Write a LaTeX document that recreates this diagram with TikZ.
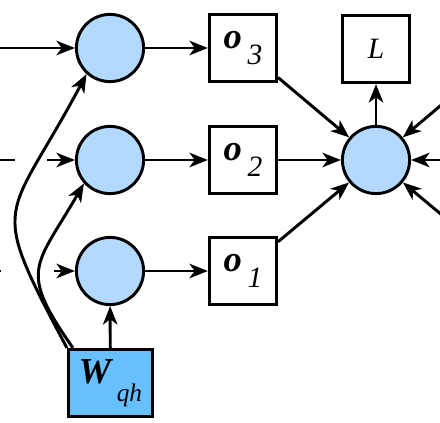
\documentclass[tikz,border=0pt]{standalone}
\usepackage{fontspec}
\setmainfont{Liberation Serif}
\usepackage{xcolor}
\usetikzlibrary{arrows.meta,positioning}
\definecolor{Ink}{HTML}{000000}
\definecolor{StateBlue}{HTML}{B3D9FF}
\definecolor{WeightBlue}{HTML}{66BFFF}
\newcommand{\bvec}[5]{{\fontsize{#3}{#3}\selectfont\bfseries\itshape #1}\kern4pt\raisebox{#5}{\fontsize{#4}{#4}\selectfont\itshape #2}}

\begin{document}
\begin{tikzpicture}[x=1cm,y=1cm,>={Stealth[length=4.6mm,width=3.6mm,inset=1.3mm]},line width=2.1pt,
  state/.style={circle,draw=Ink,fill=StateBlue,minimum size=1.68cm,inner sep=0pt},
  outbox/.style={rectangle,draw=Ink,fill=white,minimum size=1.68cm,inner sep=0pt}]
  \useasboundingbox (0,0) rectangle (11,-10.575);
  \clip (0,0) rectangle (11,-10.575);
  % hidden states and outputs
  \foreach \i/\y in {3/-1.2,2/-4.0,1/-6.775}
  {
    \node[state] (h\i) at (2.75,\y) {};
    \node[outbox] (o\i) at (6.075,\y) {\bvec{o}{\i}{26}{21}{-11pt}};
    \draw[->] (h\i) -- (o\i);
  }
  \node[state] (loss) at (9.4,-4.0) {};
  \node[outbox] (L) at (9.4,-1.225) {\fontsize{21}{21}\selectfont\itshape L};
  \node[outbox,fill=WeightBlue,minimum width=2.1cm] (W) at (2.76,-9.575) {\bvec{W}{qh}{26}{18}{-13pt}};
  % inputs from the left, cut off by the frame
  \coordinate (in3) at (-1,-1.2);
  \coordinate (in2) at (-0.325,-4.0);
  \coordinate (in1) at (-0.525,-6.775);
  \draw[->] (in3) -- (h3);
  \draw[->,dash pattern=on 0.7cm off 0.8cm] (in2) -- (h2);
  \draw[->,dash pattern=on 0.55cm off 1.325cm] (in1) -- (h1);
  % outputs into the loss
  \foreach \i/\y in {3/-1.2,2/-4.0,1/-6.775}
  {
    \coordinate (r\i) at (12.725,\y);
    \draw[->] (o\i) -- (loss);
    \draw[->] (r\i) -- (loss);
  }
  \draw[->] (loss) -- (L);
  % weight to the states
  \draw[->] (W) -- (h1);
  \draw[->] (W.north west) to[out=118,in=242,looseness=1.6] (h3.228);
  \draw[->] ([xshift=0.15cm]W.north west) to[out=125,in=240,looseness=1.5] (h2.222);
\end{tikzpicture}
\end{document}
